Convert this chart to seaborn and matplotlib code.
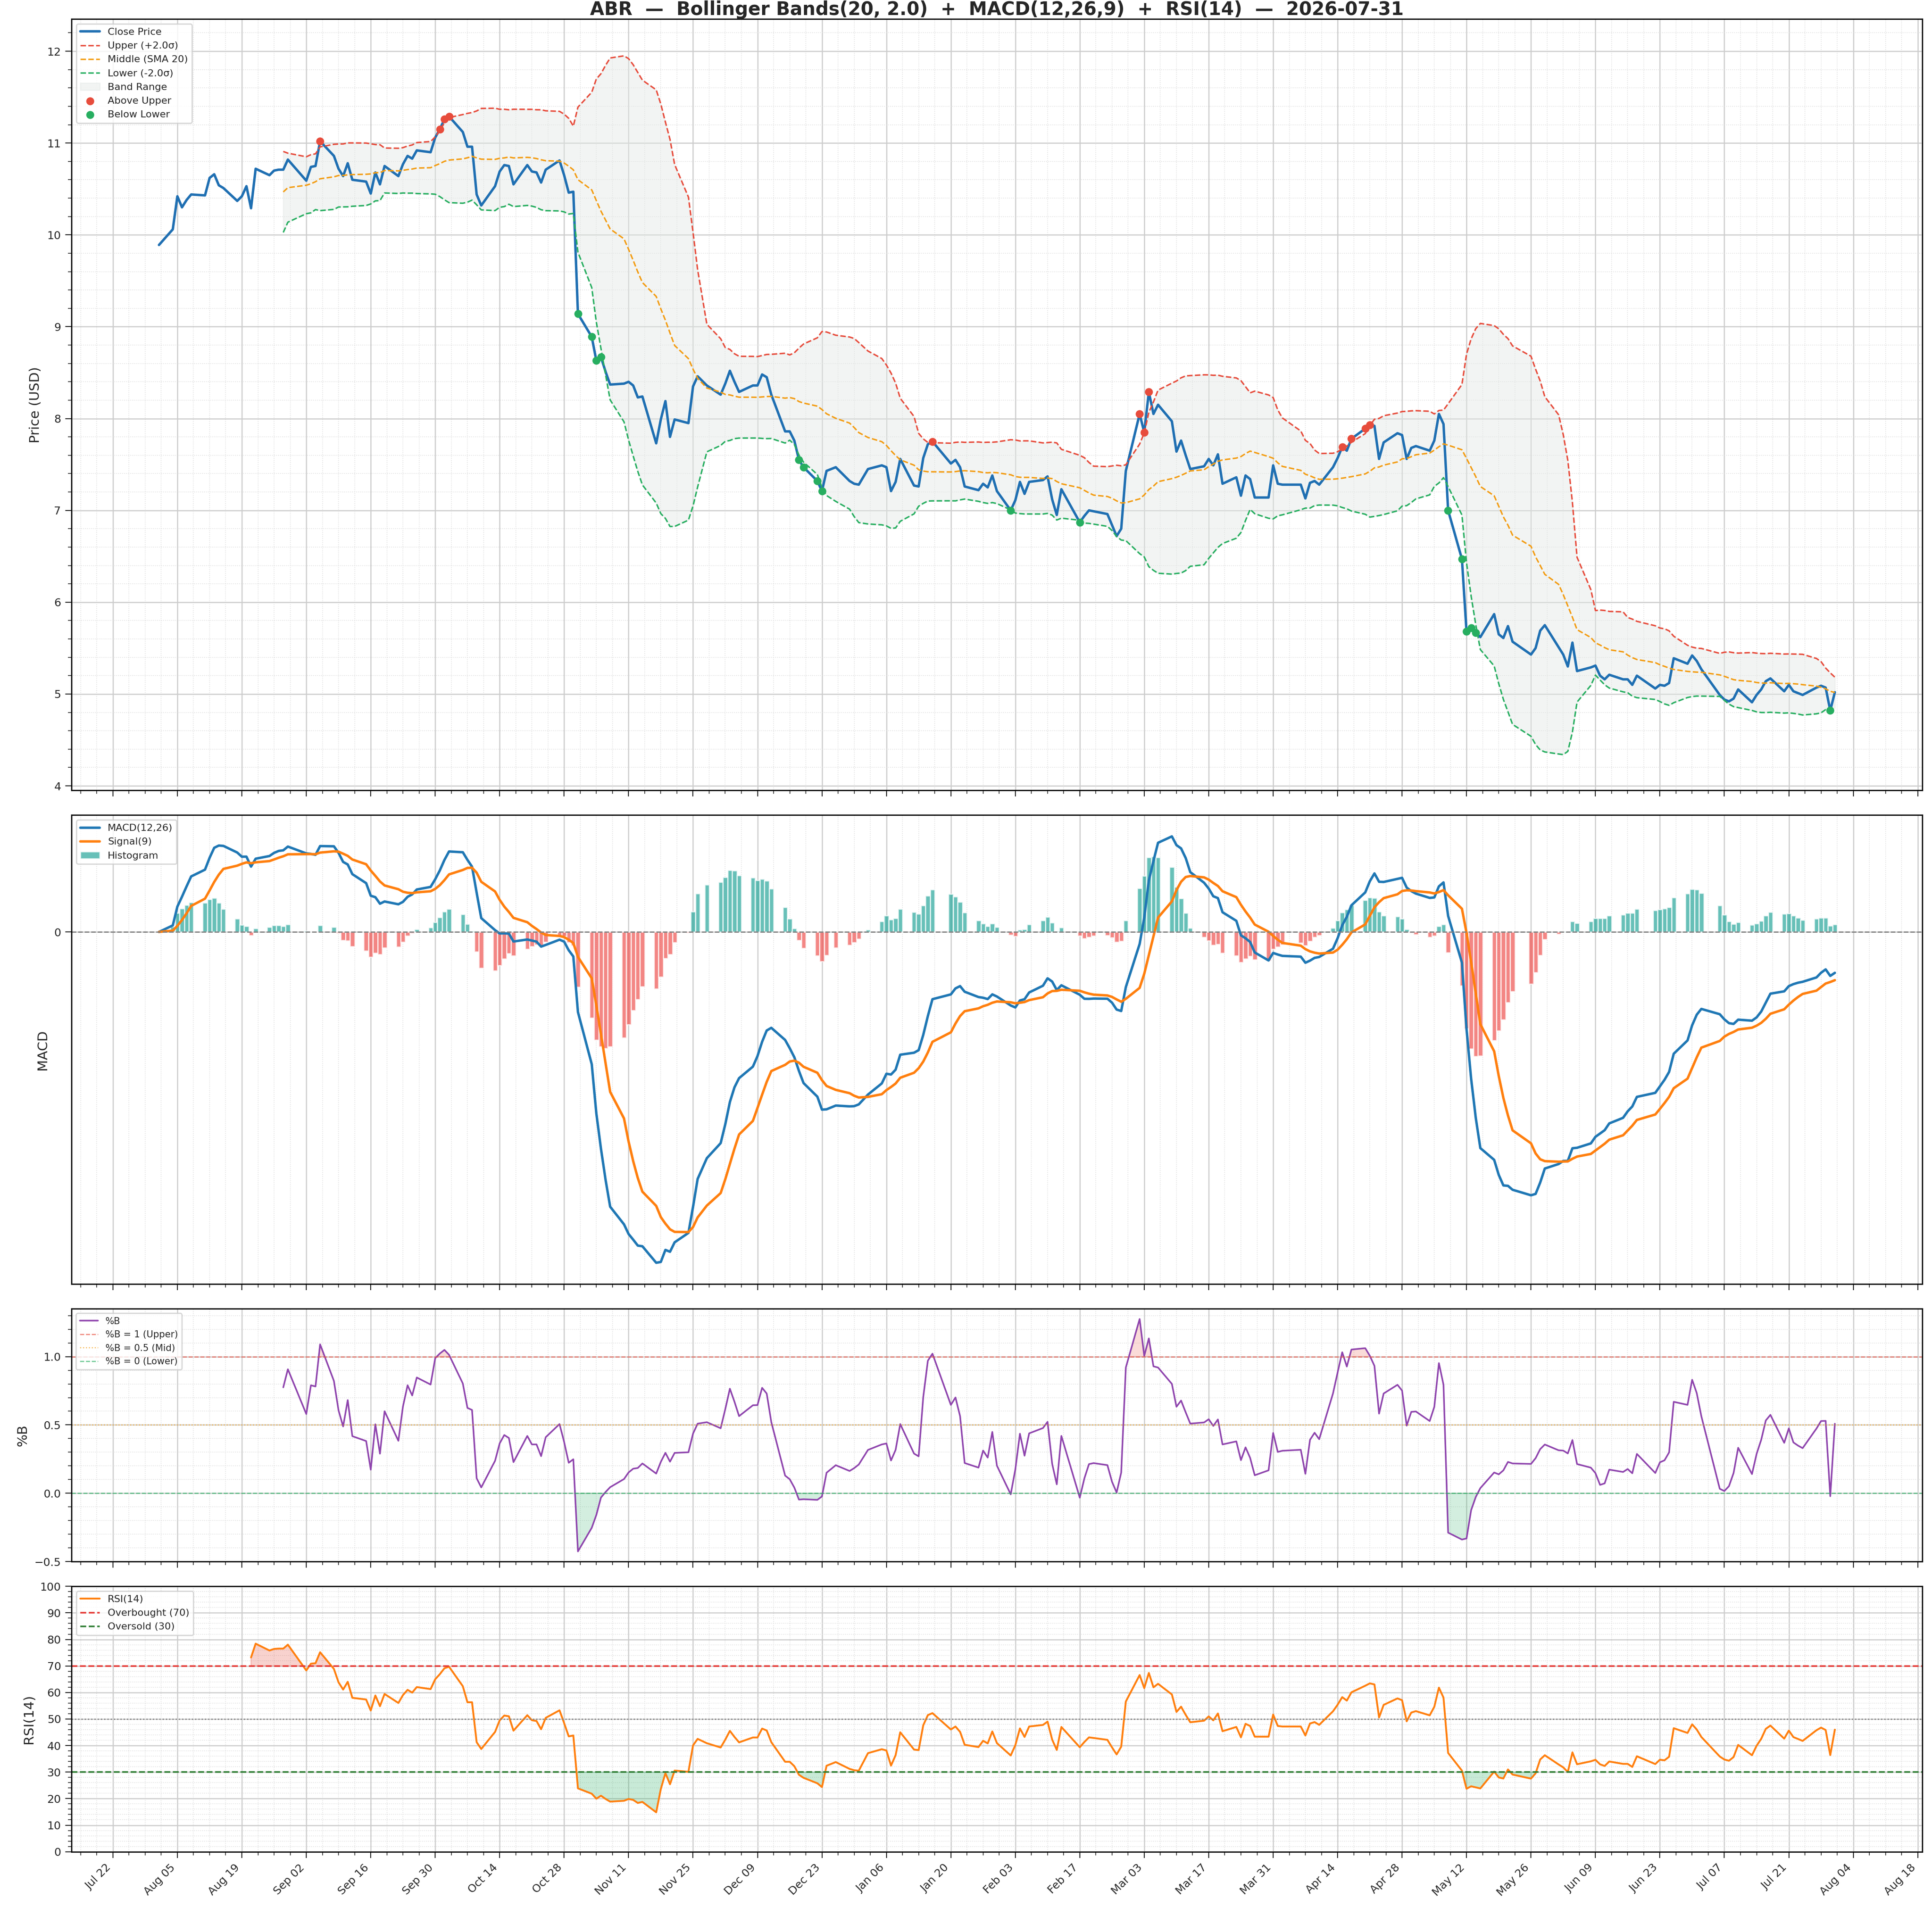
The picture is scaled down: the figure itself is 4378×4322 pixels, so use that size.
import numpy as np
import pandas as pd
import matplotlib
matplotlib.use("Agg")
import matplotlib.pyplot as plt
import matplotlib.dates as mdates
from matplotlib.ticker import AutoMinorLocator, MultipleLocator
import seaborn as sns

# ---------------- data ----------------
holidays = ["2025-09-01", "2025-11-27", "2025-12-25", "2026-01-01", "2026-01-19",
            "2026-02-16", "2026-04-03", "2026-05-25", "2026-06-19", "2026-07-03"]
close_aug = [9.89, 10.06, 10.42, 10.30, 10.38, 10.44, 10.43, 10.62, 10.66, 10.54, 10.51,
             10.37, 10.42, 10.53, 10.29, 10.72, 10.65, 10.70, 10.71, 10.71, 10.82]
close_sep = [10.59, 10.74, 10.75, 11.02, 10.86, 10.72, 10.64, 10.78, 10.60, 10.58, 10.45,
             10.68, 10.55, 10.75, 10.64, 10.77, 10.86, 10.83, 10.92, 10.90, 11.06]
close_oct = [11.15, 11.26, 11.29, 11.12, 10.96, 10.96, 10.44, 10.32, 10.53, 10.69, 10.76,
             10.75, 10.55, 10.76, 10.69, 10.68, 10.57, 10.71, 10.81, 10.65, 10.46, 10.47, 9.14]
close_nov = [8.89, 8.63, 8.67, 8.51, 8.37, 8.38, 8.40, 8.36, 8.23, 8.24, 7.73, 7.99, 8.19,
             7.80, 7.99, 7.95, 8.35, 8.46, 8.36]
close_dec = [8.26, 8.38, 8.52, 8.40, 8.29, 8.36, 8.36, 8.48, 8.45, 8.26, 7.86, 7.86, 7.76,
             7.55, 7.47, 7.32, 7.21, 7.43, 7.47, 7.32, 7.29, 7.28]
close_jan = [7.45, 7.49, 7.47, 7.21, 7.31, 7.56, 7.27, 7.26, 7.57, 7.72, 7.75, 7.51, 7.55,
             7.47, 7.26, 7.22, 7.29, 7.25, 7.38, 7.21]
close_feb = [7.00, 7.11, 7.31, 7.18, 7.31, 7.33, 7.37, 7.12, 6.95, 7.23, 6.87, 6.94, 7.00,
             6.99, 6.96, 6.84, 6.72, 6.80, 7.43]
close_mar = [8.05, 7.85, 8.29, 8.05, 8.15, 7.97, 7.64, 7.76, 7.60, 7.45, 7.48, 7.56, 7.49,
             7.61, 7.29, 7.36, 7.16, 7.38, 7.34, 7.14, 7.14, 7.49]
close_apr = [7.29, 7.28, 7.28, 7.13, 7.30, 7.32, 7.28, 7.47, 7.57, 7.69, 7.65, 7.78, 7.89,
             7.93, 7.92, 7.56, 7.74, 7.84, 7.82, 7.56, 7.68]
close_may = [7.70, 7.65, 7.76, 8.05, 7.94, 7.00, 6.47, 5.68, 5.72, 5.67, 5.62, 5.87, 5.65,
             5.61, 5.74, 5.57, 5.43, 5.50, 5.69, 5.75]
close_jun = [5.51, 5.43, 5.30, 5.56, 5.25, 5.29, 5.31, 5.20, 5.16, 5.21, 5.16, 5.16, 5.10,
             5.20, 5.06, 5.10, 5.09, 5.12, 5.39, 5.33, 5.42]
close_jul = [5.36, 5.27, 4.99, 4.94, 4.92, 4.95, 5.05, 4.91, 4.99, 5.05, 5.14, 5.17, 5.03,
             5.10, 5.03, 5.01, 4.99, 5.07, 5.09, 5.07, 4.82, 5.02]

closes = (close_aug + close_sep + close_oct + close_nov + close_dec + close_jan + close_feb
          + close_mar + close_apr + close_may + close_jun + close_jul)
dates = pd.bdate_range("2025-08-01", "2026-07-31", freq="C", holidays=holidays)
n = min(len(dates), len(closes))
df = pd.DataFrame({"date": dates[:n], "close": closes[:n]})

# ---------------- indicators ----------------
c = df["close"]
df["mid"] = c.rolling(20).mean()
sd = c.rolling(20).std()
df["upper"] = df["mid"] + 2.0 * sd
df["lower"] = df["mid"] - 2.0 * sd
df["pctb"] = (c - df["lower"]) / (df["upper"] - df["lower"])
ema12 = c.ewm(span=12, adjust=False).mean()
ema26 = c.ewm(span=26, adjust=False).mean()
df["macd"] = ema12 - ema26
df["signal"] = df["macd"].ewm(span=9, adjust=False).mean()
df["hist"] = df["macd"] - df["signal"]
delta = c.diff()
gain = delta.clip(lower=0).ewm(alpha=1 / 14, adjust=False, min_periods=14).mean()
loss = (-delta.clip(upper=0)).ewm(alpha=1 / 14, adjust=False, min_periods=14).mean()
df["rsi"] = 100 - 100 / (1 + gain / loss)

# ---------------- plot ----------------
sns.set_style("white")
plt.rcParams["font.family"] = ["DejaVu Sans"]

fig, axes = plt.subplots(4, 1, figsize=(21.89, 21.61), dpi=200, sharex=True,
                         gridspec_kw={"height_ratios": [625, 380, 205, 215], "hspace": 0.056})
ax1, ax2, ax3, ax4 = axes
fig.subplots_adjust(left=0.037, right=0.995, top=0.990, bottom=0.029)

BLUE = "#1f6fb2"
ORANGE = "#ff7f0e"
RED = "#e74c3c"
GREEN = "#27ae60"

# Price
sns.lineplot(data=df, x="date", y="close", ax=ax1, color=BLUE, lw=2.0, label="Close Price")
ax1.plot(df["date"], df["upper"], ls="--", color=RED, lw=1.2, label="Upper (+2.0σ)")
ax1.plot(df["date"], df["mid"], ls="--", color="#f39c12", lw=1.2, label="Middle (SMA 20)")
ax1.plot(df["date"], df["lower"], ls="--", color=GREEN, lw=1.2, label="Lower (-2.0σ)")
ax1.fill_between(df["date"], df["lower"], df["upper"], color="#e3e8e5", alpha=0.45, label="Band Range")
above = df[df["close"] > df["upper"]]
below = df[df["close"] < df["lower"]]
ax1.scatter(above["date"], above["close"], color=RED, s=30, zorder=5, label="Above Upper")
ax1.scatter(below["date"], below["close"], color=GREEN, s=30, zorder=5, label="Below Lower")
ax1.set_ylim(3.95, 12.35)
ax1.yaxis.set_major_locator(MultipleLocator(1))
ax1.set_ylabel("Price (USD)", fontsize=11)
ax1.set_xlabel("")
ax1.legend(loc="upper left", fontsize=8)
ax1.set_title("ABR  —  Bollinger Bands(20, 2.0)  +  MACD(12,26,9)  +  RSI(14)  —  2026-07-31",
              fontsize=15, fontweight="bold", pad=-2)

# MACD
hcol = np.where(df["hist"] >= 0, "#26a69a", "#ef5350")
ax2.bar(df["date"], df["hist"], width=1.0, color=hcol, alpha=0.7, label="Histogram")
sns.lineplot(data=df, x="date", y="macd", ax=ax2, color="#1f77b4", lw=2.0, label="MACD(12,26)")
sns.lineplot(data=df, x="date", y="signal", ax=ax2, color=ORANGE, lw=2.0, label="Signal(9)")
ax2.axhline(0, color="gray", ls="--", lw=1.0)
ax2.set_yticks([0])
ax2.set_ylabel("MACD", fontsize=11)
ax2.set_xlabel("")
h, l = ax2.get_legend_handles_labels()
order = [l.index("MACD(12,26)"), l.index("Signal(9)"), l.index("Histogram")]
ax2.legend([h[i] for i in order], [l[i] for i in order], loc="upper left", fontsize=8)

# %B
sns.lineplot(data=df, x="date", y="pctb", ax=ax3, color="#8e44ad", lw=1.3, label="%B")
ax3.axhline(1, color=RED, ls="--", lw=0.9, alpha=0.7, label="%B = 1 (Upper)")
ax3.axhline(0.5, color="#f39c12", ls=":", lw=0.9, alpha=0.7, label="%B = 0.5 (Mid)")
ax3.axhline(0, color=GREEN, ls="--", lw=0.9, alpha=0.7, label="%B = 0 (Lower)")
pb = df["pctb"]
ax3.fill_between(df["date"], pb, 1, where=pb > 1, color=RED, alpha=0.2, interpolate=True)
ax3.fill_between(df["date"], pb, 0, where=pb < 0, color=GREEN, alpha=0.2, interpolate=True)
ax3.set_ylim(-0.5, 1.35)
ax3.set_yticks([-0.5, 0.0, 0.5, 1.0])
ax3.set_ylabel("%B", fontsize=11)
ax3.set_xlabel("")
ax3.legend(loc="upper left", fontsize=7.5)

# RSI
sns.lineplot(data=df, x="date", y="rsi", ax=ax4, color=ORANGE, lw=1.5, label="RSI(14)")
ax4.axhline(70, color="#e53935", ls="--", lw=1.3, label="Overbought (70)")
ax4.axhline(30, color="#2e7d32", ls="--", lw=1.3, label="Oversold (30)")
ax4.axhline(50, color="gray", ls=":", lw=1.0)
r = df["rsi"]
ax4.fill_between(df["date"], r, 70, where=r > 70, color=RED, alpha=0.25, interpolate=True)
ax4.fill_between(df["date"], r, 30, where=r < 30, color=GREEN, alpha=0.25, interpolate=True)
ax4.set_ylim(0, 100)
ax4.set_yticks(range(0, 101, 10))
ax4.set_ylabel("RSI(14)", fontsize=11)
ax4.set_xlabel("")
ax4.legend(loc="upper left", fontsize=8)

major = pd.date_range("2025-07-22", "2026-08-18", freq="14D")
minor = pd.date_range("2025-07-15", "2026-08-20", freq="84h")
for ax in axes:
    ax.set_xticks(major)
    ax.set_xticks(minor, minor=True)
    ax.yaxis.set_minor_locator(AutoMinorLocator())
    ax.grid(True, which="major", color="#cccccc", lw=0.9)
    ax.grid(True, which="minor", color="#dddddd", lw=0.6, ls=":")
    ax.tick_params(axis="both", which="major", labelsize=9, length=5, direction="out",
                   bottom=True, left=True)
    ax.tick_params(axis="both", which="minor", length=3, bottom=True, left=True)
    for s in ax.spines.values():
        s.set_color("black")
        s.set_linewidth(1.0)
ax4.xaxis.set_major_formatter(mdates.DateFormatter("%b %d"))
plt.setp(ax4.get_xticklabels(), rotation=45, ha="right", fontsize=9)
ax4.set_xlim(pd.Timestamp("2025-07-13"), pd.Timestamp("2026-08-19"))

fig.savefig("out.png", dpi=200)
